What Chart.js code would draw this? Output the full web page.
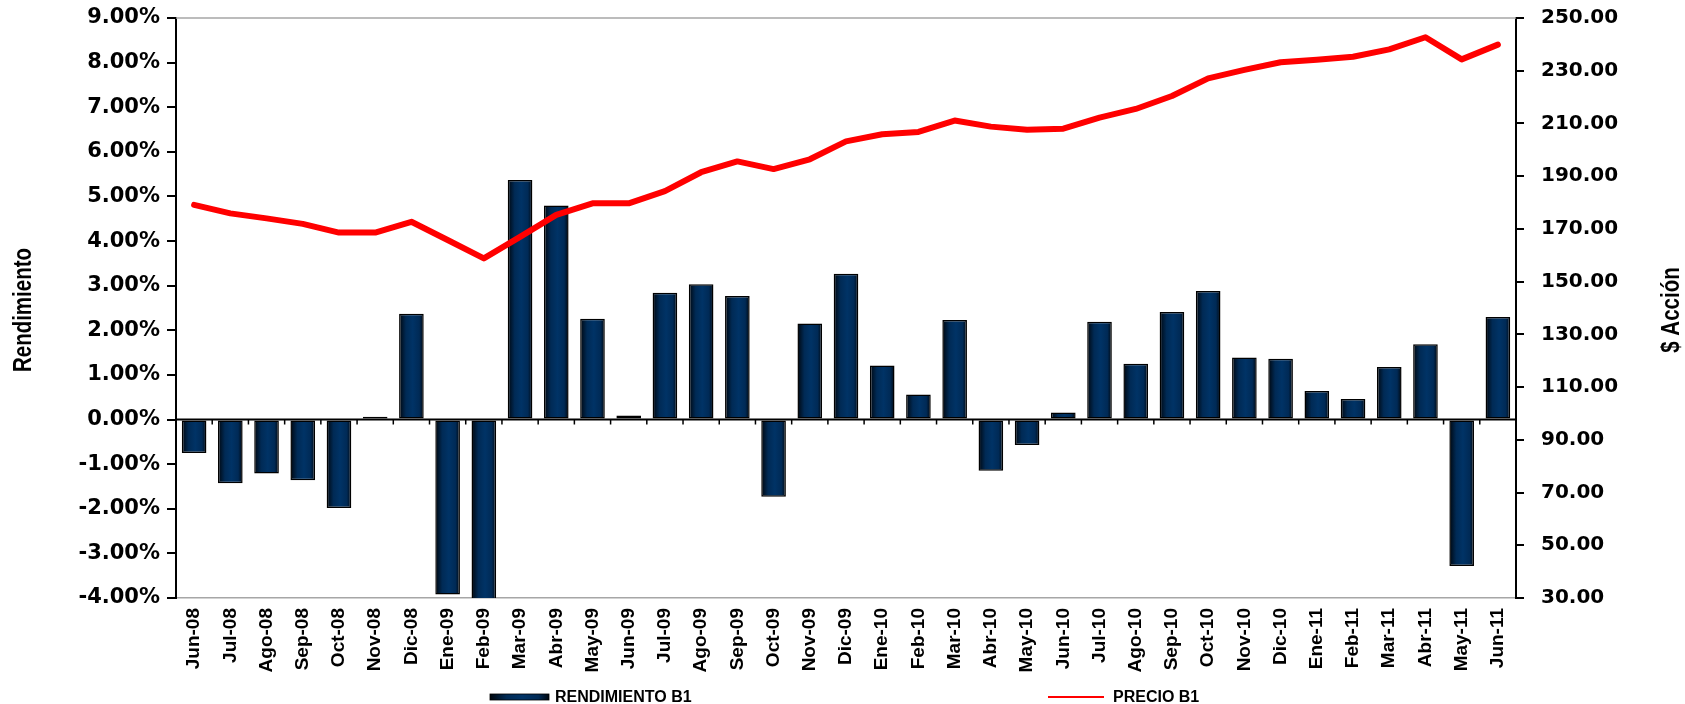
<!DOCTYPE html>
<html>
<head>
<meta charset="utf-8">
<script src="https://cdn.jsdelivr.net/npm/chart.js@4.4.1/dist/chart.umd.min.js"></script>
<style>
  html, body { margin: 0; padding: 0; background: #ffffff; }
  #wrap { position: relative; width: 1685px; height: 704px; }
</style>
</head>
<body>
<div id="wrap"><canvas id="c"></canvas></div>
<script>
const categories = ['Jun-08','Jul-08','Ago-08','Sep-08','Oct-08','Nov-08','Dic-08','Ene-09','Feb-09','Mar-09','Abr-09','May-09','Jun-09','Jul-09','Ago-09','Sep-09','Oct-09','Nov-09','Dic-09','Ene-10','Feb-10','Mar-10','Abr-10','May-10','Jun-10','Jul-10','Ago-10','Sep-10','Oct-10','Nov-10','Dic-10','Ene-11','Feb-11','Mar-11','Abr-11','May-11','Jun-11'];

// Rendimiento B1 (%)
const rendimiento = [-0.75,-1.43,-1.21,-1.36,-1.98,0.06,2.37,-3.92,-4.5,5.37,4.80,2.26,0.09,2.84,3.03,2.77,-1.73,2.15,3.27,1.21,0.56,2.23,-1.15,-0.57,0.16,2.19,1.25,2.41,2.88,1.39,1.36,0.64,0.46,1.18,1.69,-3.28,2.30];

// Precio B1 ($ por acción)
const precio = [179.1,175.9,174.0,171.9,168.6,168.6,172.7,165.8,158.8,167.0,175.3,179.7,179.7,184.3,191.5,195.6,192.7,196.4,203.2,205.9,206.8,211.1,208.8,207.6,208.0,212.2,215.5,220.4,227.1,230.3,233.2,234.2,235.3,238.1,242.7,234.3,239.9];

const leftAxis = { min: -4, max: 9, step: 1 };
const rightAxis = { min: 30, max: 250, step: 20 };

const seriesNames = ['RENDIMIENTO B1', 'PRECIO B1'];
const axisTitles = ['Rendimiento', '$ Acción'];

const BAR_PCT = 0.68;
const TITLE_FONT = 'bold 25px "Liberation Sans", Arial, sans-serif';

function barGradient(ctx, x0, x1) {
  const g = ctx.createLinearGradient(x0, 0, x1, 0);
  g.addColorStop(0, '#00060d');
  g.addColorStop(0.28, '#002a55');
  g.addColorStop(0.55, '#003366');
  g.addColorStop(0.82, '#002a56');
  g.addColorStop(1, '#00070f');
  return g;
}

function drawTitle(ctx, text, x, y) {
  ctx.save();
  ctx.translate(x, y);
  ctx.rotate(-Math.PI / 2);
  ctx.scale(0.82, 1); // condensed look
  ctx.font = TITLE_FONT;
  ctx.fillStyle = '#000';
  ctx.textAlign = 'center';
  ctx.textBaseline = 'middle';
  ctx.fillText(text, 0, 0);
  ctx.restore();
}

const decor = {
  id: 'decor',
  beforeDatasetsDraw(chart) {
    const { ctx, chartArea: a } = chart;
    ctx.save();
    ctx.strokeStyle = '#a6a6a6';
    ctx.lineWidth = 1.5;
    ctx.beginPath();
    ctx.moveTo(a.left, a.top);
    ctx.lineTo(a.right, a.top);
    ctx.stroke();
    ctx.restore();
  },
  afterDatasetDraw(chart, args) {
    if (args.index !== 0) return;
    const { ctx, chartArea: a } = chart;
    const xs = chart.scales.x, ys = chart.scales.y;
    const y0 = ys.getPixelForValue(0);
    ctx.save();
    ctx.strokeStyle = '#000';
    ctx.lineWidth = 2;
    ctx.beginPath();
    ctx.moveTo(a.left, y0);
    ctx.lineTo(a.right, y0);
    ctx.stroke();
    ctx.lineWidth = 1.5;
    ctx.beginPath();
    for (let i = 1; i < categories.length; i++) {
      const x = (xs.getPixelForValue(i - 1) + xs.getPixelForValue(i)) / 2;
      ctx.moveTo(x, y0);
      ctx.lineTo(x, y0 + 5);
    }
    ctx.stroke();
    ctx.restore();
  },
  afterDraw(chart) {
    const { ctx, chartArea: a } = chart;
    const cy = (a.top + a.bottom) / 2;
    drawTitle(ctx, axisTitles[0], 24, cy + 2);
    drawTitle(ctx, axisTitles[1], 1672, cy + 2);

    // legend
    ctx.save();
    const ly = 697;
    ctx.fillStyle = barGradient(ctx, 490, 549);
    ctx.fillRect(490, ly - 3, 59, 6);
    ctx.strokeStyle = '#000';
    ctx.lineWidth = 0.8;
    ctx.strokeRect(490, ly - 3, 59, 6);
    ctx.strokeStyle = '#ff0000';
    ctx.lineWidth = 2;
    ctx.beginPath();
    ctx.moveTo(1048, ly);
    ctx.lineTo(1104, ly);
    ctx.stroke();
    ctx.font = 'bold 16px "Liberation Sans", Arial, sans-serif';
    ctx.fillStyle = '#000';
    ctx.textAlign = 'left';
    ctx.textBaseline = 'middle';
    ctx.fillText(seriesNames[0], 555, ly + 1);
    ctx.fillText(seriesNames[1], 1113, ly + 1);
    ctx.restore();
  }
};

const noPad = (s) => { s.paddingTop = 0; s.paddingBottom = 0; };

new Chart(document.getElementById('c'), {
  data: {
    labels: categories,
    datasets: [
      {
        type: 'bar',
        label: seriesNames[0],
        data: rendimiento,
        yAxisID: 'y',
        order: 1,
        clip: { left: 5, right: 5, top: 5, bottom: 0 },
        barPercentage: BAR_PCT,
        categoryPercentage: 1,
        borderColor: '#000',
        borderWidth: 1.5,
        borderSkipped: false,
        backgroundColor: (c) => {
          const chart = c.chart;
          const xs = chart.scales.x;
          if (!xs || !chart.chartArea || c.dataIndex === undefined) return '#003366';
          const cx = xs.getPixelForValue(c.dataIndex);
          const cw = categories.length > 1 ? (xs.getPixelForValue(1) - xs.getPixelForValue(0)) : 30;
          const hw = cw * BAR_PCT / 2;
          return barGradient(chart.ctx, cx - hw, cx + hw);
        }
      },
      {
        type: 'line',
        label: seriesNames[1],
        data: precio,
        yAxisID: 'y2',
        order: 0,
        borderColor: '#ff0000',
        backgroundColor: '#ff0000',
        borderWidth: 6,
        borderCapStyle: 'round',
        borderJoinStyle: 'round',
        pointRadius: 0,
        tension: 0,
        fill: false
      }
    ]
  },
  options: {
    responsive: true,
    maintainAspectRatio: false,
    animation: false,
    devicePixelRatio: 1,
    layout: { padding: { top: 18, left: 0, right: 0, bottom: 0 } },
    plugins: {
      legend: { display: false },
      tooltip: { enabled: false },
      title: { display: false }
    },
    scales: {
      x: {
        type: 'category',
        offset: true,
        grid: { display: true, drawOnChartArea: false, drawTicks: false },
        border: { display: true, color: '#a6a6a6', width: 1.5 },
        ticks: {
          color: '#000',
          font: { family: '"Liberation Sans", Arial, sans-serif', weight: 'bold', size: 19 },
          minRotation: 90,
          maxRotation: 90,
          autoSkip: false,
          padding: 10
        },
        afterFit: (s) => { s.height = 106; }
      },
      y: {
        position: 'left',
        min: leftAxis.min,
        max: leftAxis.max,
        grid: { display: true, drawOnChartArea: false, drawTicks: true, tickLength: 9, color: '#000', lineWidth: 2 },
        border: { display: true, color: '#000', width: 2 },
        ticks: {
          stepSize: leftAxis.step,
          color: '#000',
          font: { family: '"DejaVu Sans", Verdana, sans-serif', weight: 'bold', size: 21 },
          padding: 7,
          callback: (v) => Number(v).toFixed(2) + '%'
        },
        title: { display: false },
        afterFit: (s) => { s.width = 176; noPad(s); }
      },
      y2: {
        position: 'right',
        min: rightAxis.min,
        max: rightAxis.max,
        grid: { display: true, drawOnChartArea: false, drawTicks: true, tickLength: 8, color: '#000', lineWidth: 2 },
        border: { display: true, color: '#000', width: 2 },
        ticks: {
          stepSize: rightAxis.step,
          color: '#000',
          font: { family: '"DejaVu Sans", Verdana, sans-serif', weight: 'bold', size: 20 },
          padding: 17,
          callback: (v) => Number(v).toFixed(2)
        },
        afterFit: (s) => { s.width = 169; noPad(s); }
      }
    }
  },
  plugins: [decor]
});
</script>
</body>
</html>
